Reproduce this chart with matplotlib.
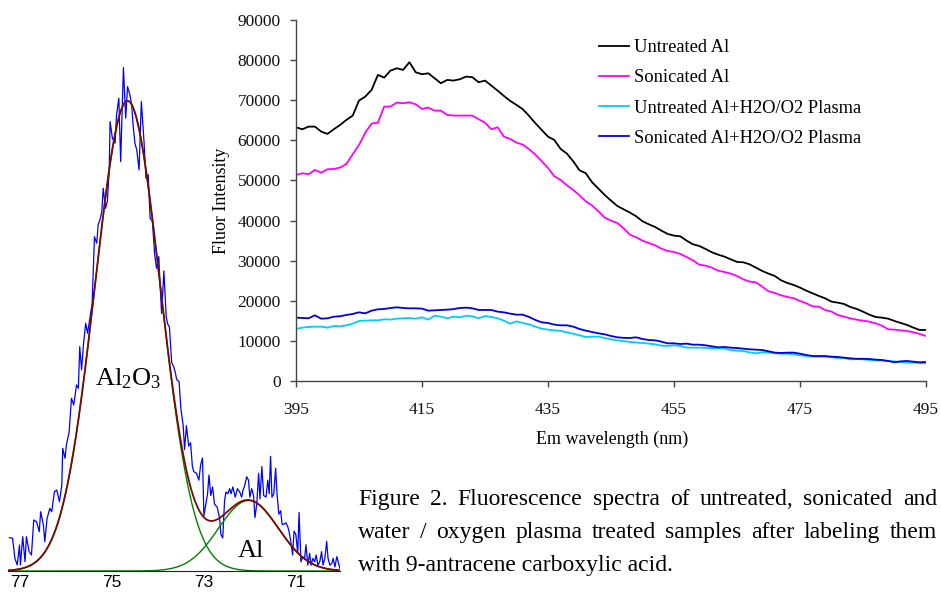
import numpy as np
import matplotlib
matplotlib.use('Agg')
import matplotlib.pyplot as plt

plt.rcParams['font.family'] = ['Liberation Serif', 'DejaVu Serif']
plt.rcParams['mathtext.fontset'] = 'custom'
plt.rcParams['mathtext.rm'] = 'Liberation Serif'
plt.rcParams['mathtext.default'] = 'rm'

W, H = 941, 592

# fluorescence emission spectra, 1 nm steps
wavelength = list(range(395, 496))
untreated = [63260, 62760, 63420, 63420, 62180, 61600, 62760, 63840, 65090, 66170,
             69910, 70910, 72570, 76310, 75640, 77390, 77970, 77560, 79470, 76970,
             76480, 76720, 75480, 74230, 75060, 74900, 75230, 75890, 75730, 74480,
             74900, 73650, 72400, 71070, 69830, 68830, 67750, 66080, 64260, 62590,
             60930, 60100, 57860, 56690, 54780, 52540, 51790, 49540, 47960, 46380,
             44970, 43640, 42810, 41980, 41060, 39820, 39070, 38400, 37490, 36660,
             36240, 36080, 35000, 34080, 33670, 32920, 32090, 31500, 31010, 30340,
             29680, 29590, 29090, 28260, 27430, 26770, 26180, 25100, 24440, 23940,
             23280, 22530, 21860, 21200, 20610, 19780, 19530, 19200, 18450, 17960,
             17290, 16540, 15960, 15790, 15540, 14960, 14460, 13970, 13300, 12720,
             12720]
sonicated = [51370, 51790, 51540, 52620, 51950, 52790, 52870, 53200, 54110, 56530,
             58850, 61930, 64170, 64420, 68410, 68410, 69410, 69240, 69490, 68990,
             67830, 68160, 67410, 67410, 66330, 66170, 66170, 66170, 66170, 65250,
             64420, 62760, 63260, 60930, 60350, 59430, 58940, 57770, 56440, 54780,
             53120, 51040, 50120, 48800, 47630, 46300, 44810, 43720, 42310, 40730,
             39980, 39400, 38070, 36490, 35830, 35000, 34410, 33830, 33000, 32420,
             32170, 31670, 30920, 30090, 29010, 28760, 28260, 27510, 27180, 26770,
             26180, 25350, 24770, 24610, 23520, 22360, 21950, 21360, 20950, 20620,
             19950, 19370, 18620, 18540, 17710, 17290, 16460, 16040, 15630, 15290,
             15040, 14800, 14380, 13800, 12890, 12800, 12640, 12470, 12140, 11720,
             11220]
untreated_plasma = [12970, 13300, 13470, 13550, 13550, 13300, 13720, 13630, 13880, 14300,
                    14960, 15050, 15130, 15130, 15380, 15300, 15540, 15630, 15710, 15540,
                    15880, 15300, 16290, 16040, 15630, 16040, 15880, 16290, 16130, 15630,
                    16210, 15960, 15630, 15050, 14300, 14880, 14460, 14130, 13550, 13050,
                    12800, 12640, 12470, 12140, 11800, 11390, 10970, 11060, 11060, 10720,
                    10390, 10140, 9930, 9730, 9600, 9480, 9310, 9140, 8810, 8730,
                    8900, 8730, 8310, 8310, 8310, 8270, 8190, 8150, 8060, 7730,
                    7560, 7480, 7150, 6900, 7150, 7070, 6900, 6820, 6820, 6650,
                    6400, 6230, 6070, 6070, 6030, 5900, 5740, 5740, 5400, 5490,
                    5400, 5240, 5150, 5070, 4990, 4900, 4740, 4570, 4570, 4490,
                    4410]
sonicated_plasma = [15790, 15710, 15630, 16380, 15540, 15630, 16040, 16130, 16460, 16710,
                    17120, 16870, 17540, 17870, 17960, 18200, 18370, 18200, 18120, 18120,
                    18040, 17540, 17620, 17710, 17790, 17910, 18200, 18290, 18120, 17710,
                    17710, 17710, 17290, 17120, 16790, 16540, 16540, 15960, 15210, 14630,
                    14460, 14050, 13880, 13880, 13550, 12970, 12550, 12220, 11890, 11640,
                    11220, 10890, 10760, 10720, 10890, 10470, 10220, 10140, 9810, 9390,
                    9390, 9230, 9310, 9060, 9060, 8900, 8650, 8400, 8480, 8310,
                    8230, 8060, 7900, 7810, 7730, 7400, 7070, 6980, 7070, 7070,
                    6820, 6480, 6230, 6230, 6230, 6070, 5990, 5820, 5650, 5530,
                    5530, 5490, 5320, 5240, 4990, 4660, 4900, 4990, 4820, 4660,
                    4740]
series_names = ['Untreated Al', 'Sonicated Al',
                'Untreated Al+H2O/O2 Plasma', 'Sonicated Al+H2O/O2 Plasma']

# Al 2p spectrum (binding energy, relative intensity)
be = [77.23, 77.16, 77.11, 77.06, 77.01, 76.99, 76.94, 76.89, 76.86, 76.80,
      76.75, 76.70, 76.64, 76.58, 76.55, 76.49, 76.46, 76.41, 76.35, 76.31,
      76.25, 76.20, 76.14, 76.09, 76.07, 76.02, 75.99, 75.93, 75.88, 75.83,
      75.77, 75.73, 75.70, 75.66, 75.62, 75.57, 75.53, 75.48, 75.43, 75.38,
      75.33, 75.30, 75.26, 75.22, 75.19, 75.14, 75.10, 75.06, 75.04, 74.99,
      74.93, 74.90, 74.85, 74.81, 74.75, 74.70, 74.66, 74.61, 74.57, 74.54,
      74.50, 74.46, 74.41, 74.36, 74.30, 74.26, 74.21, 74.17, 74.12, 74.07,
      74.03, 73.98, 73.96,
      73.92, 73.87, 73.82, 73.79, 73.75, 73.70, 73.66, 73.62, 73.59, 73.54,
      73.50, 73.45, 73.42, 73.38, 73.33, 73.29, 73.25, 73.22, 73.16, 73.11,
      73.07, 73.03, 73.00, 72.92, 72.89, 72.85, 72.81, 72.77, 72.71, 72.66,
      72.63, 72.59, 72.55, 72.52, 72.48, 72.44, 72.41, 72.37, 72.32, 72.27,
      72.22, 72.18, 72.15, 72.11, 72.07, 72.03, 72.00, 71.96, 71.92, 71.89,
      71.85, 71.81, 71.78, 71.74, 71.70, 71.65, 71.61, 71.58, 71.55, 71.52,
      71.48, 71.44, 71.41, 71.37, 71.33, 71.30, 71.26, 71.22, 71.18, 71.15,
      71.11, 71.07, 71.04, 71.00, 70.96, 70.93, 70.89, 70.85, 70.81, 70.78,
      70.74, 70.70, 70.67, 70.63, 70.59, 70.56, 70.52, 70.48, 70.44, 70.41,
      70.37, 70.33, 70.30, 70.26, 70.22, 70.19, 70.15, 70.11, 70.08, 70.04]
counts = [7.09, 6.95, 2.70, 1.28, 5.53, 1.28, 7.30, 1.99, 7.30, 4.11,
          3.40, 10.85, 10.50, 8.37, 12.62, 9.79, 6.24, 11.20, 13.33, 12.62,
          16.88, 17.23, 14.75, 18.30, 26.10, 23.98, 26.81, 29.64, 36.74, 35.32,
          39.57, 38.87, 47.72, 42.77, 48.09, 52.70, 50.57, 53.76, 56.95, 71.13,
          69.72, 73.62, 74.68, 76.45, 81.42, 77.16, 78.58, 84.96, 95.60, 92.06,
          91.00, 97.02, 100.57, 87.09, 107.09, 96.31, 103.05, 101.28, 99.15, 94.89,
          91.00, 89.57, 85.32, 99.86, 91.00, 83.55, 84.26, 75.04, 74.33, 67.23,
          64.40, 66.88, 62.27,
          54.79, 63.84, 54.07, 52.62, 51.89, 44.30, 43.57, 42.12, 40.68, 40.32,
          34.53, 30.91, 25.84, 30.91, 26.57, 27.29, 22.22, 21.14, 20.78, 19.33,
          22.58, 24.03, 11.73, 16.43, 20.41, 16.07, 17.88, 14.26, 13.54, 11.37,
          7.75, 7.03, 14.99, 16.80, 16.43, 17.52, 16.43, 17.88, 15.71, 17.52,
          16.80, 15.71, 17.16, 18.24, 20.05, 19.33, 15.71, 17.52, 16.07, 11.37,
          14.26, 20.78, 15.35, 22.22, 16.07, 15.71, 19.33, 16.43, 24.39, 15.71,
          16.43, 21.86, 16.43, 12.09, 12.81, 9.92, 9.92, 10.28, 9.56, 8.47,
          6.30, 3.41, 8.47, 7.75, 3.77, 12.45, 1.96, 3.05, 2.68, 5.58,
          1.24, 3.77, 1.24, 2.68, 1.96, 3.41, 1.24, 1.96, 4.13, 1.24,
          2.68, 6.30, 2.68, 1.24, 1.60, 2.68, 0.87, 3.05, 1.96, 0.51]
# fitted gaussian components: Al2O3, Al metal
peak_center = [74.66, 72.03]
peak_height = [100.0, 15.0]
peak_sigma = [0.71, 0.65]
xps_ticks = [77, 75, 73, 71]

caption = ["Figure 2. Fluorescence spectra of untreated, sonicated and",
           "water / oxygen plasma treated samples after labeling them",
           "with 9-antracene carboxylic acid."]


def box(x0, y0, x1, y1):
    # pixel box measured from top-left -> figure rect
    return [x0 / W, 1 - y1 / H, (x1 - x0) / W, (y1 - y0) / H]


fig = plt.figure(figsize=(W / 100, H / 100), dpi=100)

# ---- left: XPS panel ----
ax1 = fig.add_axes(box(8, 60, 340, 571))
ax1.set_facecolor('none')
ax1.plot(be, counts, color='#0000FF', lw=0.9)
e = np.linspace(77.26, 70.04, 800)
comps = [h * np.exp(-(e - c) ** 2 / (2 * s ** 2))
         for c, h, s in zip(peak_center, peak_height, peak_sigma)]
for comp in comps:
    ax1.plot(e, comp, color='#008000', lw=1.0)
ax1.plot(e, comps[0] + comps[1], color='#7A0A00', lw=1.3)
ax1.set_xlim(77.26, 70.04)
ax1.set_ylim(0, 108.7)
ax1.set_xticks(xps_ticks)
ax1.set_yticks([])
ax1.tick_params(axis='x', length=0, pad=3, labelsize=12.5,
                labelfontfamily='Liberation Sans')
for s in ['left', 'right', 'top']:
    ax1.spines[s].set_visible(False)
ax1.spines['bottom'].set_color('#202020')
ax1.spines['bottom'].set_linewidth(0.8)
ax1.text(75.37, 39.4, 'Al$_2$O$_3$', fontsize=19, ha='left', va='baseline')
ax1.text(72.26, 3.0, 'Al', fontsize=19, ha='left', va='baseline')

# ---- right: fluorescence spectra ----
ax2 = fig.add_axes(box(296, 20, 926, 381))
ax2.set_facecolor('none')
colors = ['#000000', '#FF00FF', '#00CCFF', '#0000E0']
for ys, name, c in zip([untreated, sonicated, untreated_plasma, sonicated_plasma],
                       series_names, colors):
    ax2.plot(wavelength, ys, color=c, lw=1.3, label=name)
ax2.set_xlim(395, 495)
ax2.set_ylim(0, 90000)
ax2.set_xticks(range(395, 496, 20))
ax2.set_yticks(range(0, 90001, 10000))
ax2.tick_params(direction='out', length=4, width=1, color='#444444',
                labelsize=12.5, labelcolor='#111111')
ax2.tick_params(axis='x', pad=11)
ax2.tick_params(axis='y', pad=7)
for s in ['right', 'top']:
    ax2.spines[s].set_visible(False)
for s in ['left', 'bottom']:
    ax2.spines[s].set_color('#444444')
    ax2.spines[s].set_linewidth(1.0)

ax2.legend(loc='upper left', bbox_to_anchor=(599 / W, 1 - 39 / H),
           bbox_transform=fig.transFigure, frameon=False, fontsize=13.3,
           handlelength=1.65, handletextpad=0.22, labelspacing=0.72,
           borderpad=0, borderaxespad=0)

fig.text(222 / W, 1 - 201 / H, 'Fluor Intensity', rotation=90,
         ha='center', va='center', fontsize=13)
fig.text(612 / W, 1 - 439 / H, 'Em wavelength (nm)',
         ha='center', va='center', fontsize=13)

# ---- caption, justified ----
renderer = fig.canvas.get_renderer()
x_left, x_right = 358, 937
baselines = [505, 538, 571]
for i, (line, yb) in enumerate(zip(caption, baselines)):
    if i == len(caption) - 1:
        fig.text(x_left / W, 1 - yb / H, line, fontsize=17,
                 ha='left', va='baseline')
        continue
    words = line.split(' ')
    texts = [fig.text(0, 1 - yb / H, w, fontsize=17, ha='left', va='baseline')
             for w in words]
    widths = [t.get_window_extent(renderer).width for t in texts]
    gap = (x_right - x_left - sum(widths)) / (len(words) - 1)
    x = x_left
    for t, wd in zip(texts, widths):
        t.set_x(x / W)
        x += wd + gap

fig.savefig('out.png', dpi=100)
